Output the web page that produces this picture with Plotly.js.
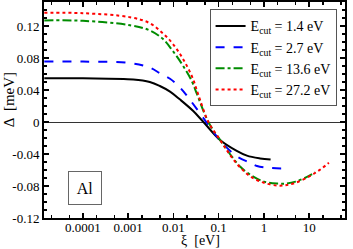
<!DOCTYPE html>
<html>
<head>
<meta charset="utf-8">
<script src="https://cdn.plot.ly/plotly-3.0.1.min.js"></script>
<style>html,body{margin:0;padding:0;background:#fff;}#chart{width:353px;height:249px;}</style>
</head>
<body>
<div id="chart"></div>
<script>
// Data
const seriesNames = ["E<sub>cut</sub> = 1.4 eV", "E<sub>cut</sub> = 2.7 eV", "E<sub>cut</sub> = 13.6 eV", "E<sub>cut</sub> = 27.2 eV"];

const xi14 = [1.4e-5, 1e-4, 0.0013, 0.003, 0.005, 0.0084, 0.014, 0.027, 0.046, 0.107, 0.25, 0.42, 0.82, 1.4];
const d14  = [0.0548, 0.0546, 0.0532, 0.050, 0.045, 0.038, 0.028, 0.014, 0.0, -0.0224, -0.036, -0.042, -0.0455, -0.047];

const xi27 = [1.4e-5, 1e-4, 0.001, 0.003, 0.005, 0.0084, 0.014, 0.023, 0.053, 0.107, 0.25, 0.5, 0.7, 1.4, 2.7];
const d27  = [0.0755, 0.0755, 0.074, 0.068, 0.061, 0.054, 0.043, 0.028, 0.0, -0.023, -0.043, -0.051, -0.055, -0.0575, -0.058];

const xi136 = [1.4e-5, 1e-4, 0.0011, 0.003, 0.0058, 0.0096, 0.016, 0.026, 0.033, 0.059, 0.107, 0.2, 0.3, 0.5, 1.0, 2.0, 3.0, 5.0, 8.7, 13.6];
const d136  = [0.127, 0.1265, 0.121, 0.1145, 0.104, 0.089, 0.071, 0.050, 0.035, 0.0, -0.0224, -0.044, -0.056, -0.066, -0.0745, -0.077, -0.077, -0.0745, -0.069, -0.063];

const xi272 = [1.4e-5, 1e-4, 0.0011, 0.003, 0.0058, 0.0096, 0.016, 0.026, 0.036, 0.059, 0.107, 0.15, 0.2, 0.3, 0.5, 1.0, 2.0, 3.0, 5.0, 10, 15, 20, 27.2];
const d272  = [0.1365, 0.136, 0.131, 0.1235, 0.111, 0.098, 0.0795, 0.056, 0.033, 0.0, -0.0224, -0.035, -0.045, -0.057, -0.068, -0.076, -0.0795, -0.079, -0.076, -0.068, -0.062, -0.057, -0.051];

const xTickVals = [1e-4, 1e-3, 1e-2, 1e-1, 1, 10];
const xTickText = ["0.0001", "0.001", "0.01", "0.1", "1", "10"];
const yTickVals = [-0.12, -0.08, -0.04, 0, 0.04, 0.08, 0.12];
const yTickText = ["-0.12", "-0.08", "-0.04", "0", "0.04", "0.08", "0.12"];
const xTitle = "ξ  [eV]";
const yTitle = "Δ  [meV]";
const panelLabel = "Al";

const serif = "Liberation Serif, Times New Roman, serif";

const traces = [
  {x: xi14, y: d14, name: seriesNames[0], mode: "lines", line: {color: "#000000", width: 2, dash: "solid", shape: "spline"}},
  {x: xi27, y: d27, name: seriesNames[1], mode: "lines", line: {color: "#0000ff", width: 2, dash: "dash", shape: "spline"}},
  {x: xi136, y: d136, name: seriesNames[2], mode: "lines", line: {color: "#008c00", width: 2, dash: "dashdot", shape: "spline"}},
  {x: xi272, y: d272, name: seriesNames[3], mode: "lines", line: {color: "#ff0000", width: 2, dash: "dot", shape: "spline"}}
];

const layout = {
  width: 353, height: 249,
  margin: {l: 44, r: 8, t: 2, b: 31},
  paper_bgcolor: "#fff", plot_bgcolor: "#fff",
  font: {family: serif, size: 13, color: "#000"},
  showlegend: true,
  legend: {
    x: 0.972, y: 0.966, xanchor: "right", yanchor: "top",
    bordercolor: "#555", borderwidth: 1, bgcolor: "#fff",
    font: {family: serif, size: 14, color: "#000"},
    tracegroupgap: 0
  },
  xaxis: {
    type: "log", range: [-4.86, 1.79], automargin: false,
    tickmode: "array", tickvals: xTickVals, ticktext: xTickText,
    ticks: "inside", ticklen: 5, tickwidth: 1.5, tickcolor: "#000",
    ticklabelstandoff: -4,
    showline: true, linecolor: "#000", linewidth: 2, mirror: "ticks",
    showgrid: false, zeroline: false,
    tickfont: {family: serif, size: 13},
    minor: {ticks: "inside", ticklen: 3, tickwidth: 1.5, tickcolor: "#000", dtick: "D2", showgrid: false}
  },
  yaxis: {
    range: [-0.12, 0.15], automargin: false,
    tickmode: "array", tickvals: yTickVals, ticktext: yTickText,
    ticks: "inside", ticklen: 5, tickwidth: 1.5, tickcolor: "#000",
    showline: true, linecolor: "#000", linewidth: 2, mirror: "ticks",
    showgrid: false,
    zeroline: true, zerolinecolor: "#333", zerolinewidth: 1,
    tickfont: {family: serif, size: 13},
    minor: {ticks: "inside", ticklen: 3, tickwidth: 1.5, tickcolor: "#000", dtick: 0.01, showgrid: false}
  },
  annotations: [
    {
      xref: "paper", yref: "paper", x: 0.135, y: 0.139,
      xanchor: "center", yanchor: "middle",
      text: panelLabel, showarrow: false,
      font: {family: serif, size: 16, color: "#000"},
      width: 30, height: 30, borderpad: 1, borderwidth: 1, bordercolor: "#666", bgcolor: "#fff"
    },
    {
      xref: "paper", yref: "paper", x: 0.52, y: -0.104,
      xanchor: "center", yanchor: "middle",
      text: xTitle, showarrow: false,
      font: {family: serif, size: 14, color: "#000"}
    },
    {
      xref: "paper", yref: "paper", x: -0.116, y: 0.545,
      xanchor: "center", yanchor: "middle", textangle: -90,
      text: yTitle, showarrow: false,
      font: {family: serif, size: 15, color: "#000"}
    }
  ]
};

Plotly.newPlot("chart", traces, layout, {displayModeBar: false, staticPlot: true});
</script>
</body>
</html>
